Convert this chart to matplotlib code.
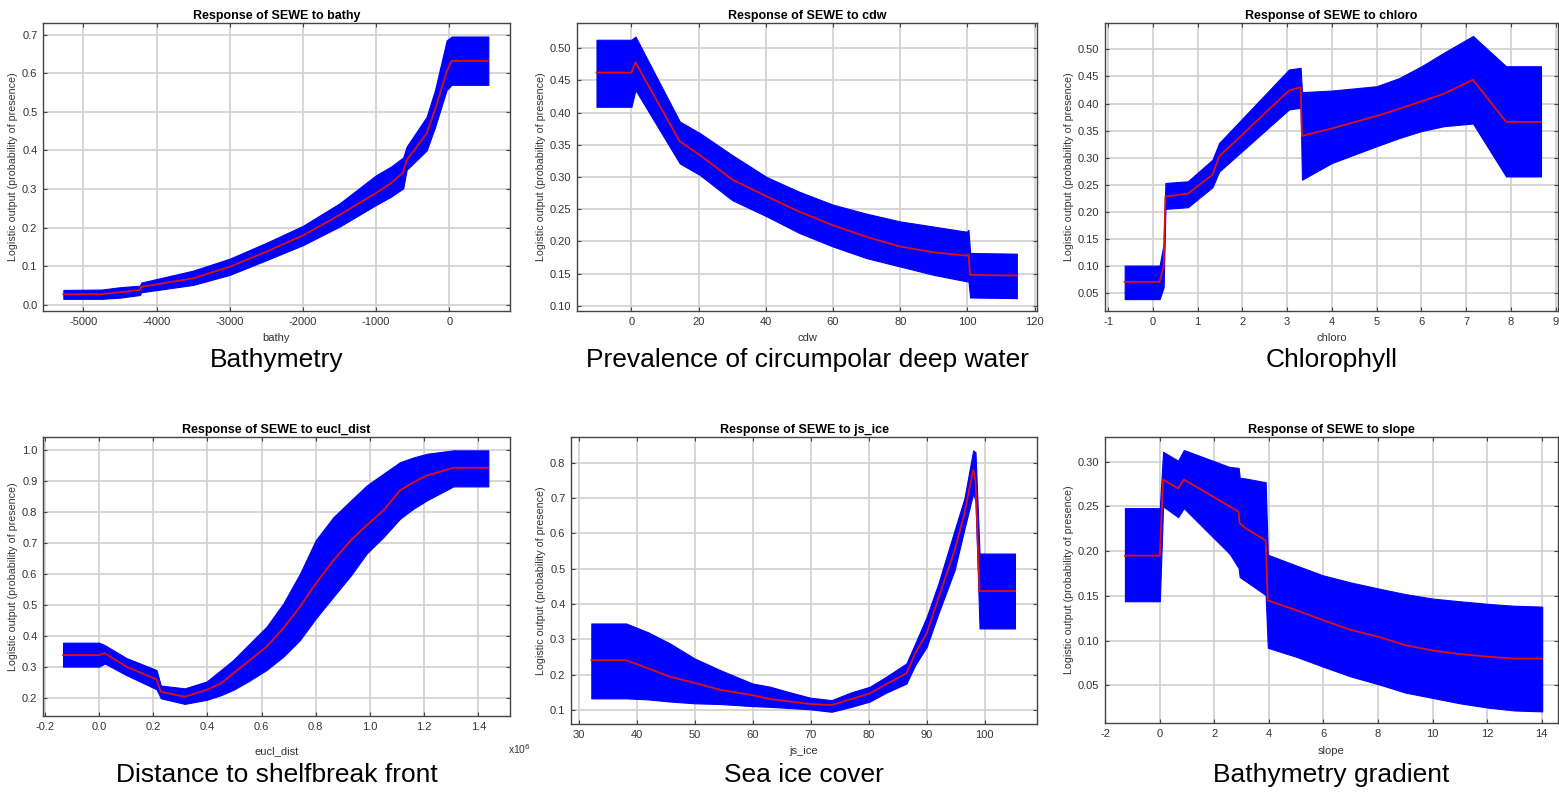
import matplotlib
matplotlib.use("Agg")
import matplotlib.pyplot as plt
from matplotlib.ticker import FormatStrFormatter

plt.rcParams['font.family'] = ['Liberation Sans', 'DejaVu Sans']

# ---------------- data ----------------
bathy_x = [-5273, -4750, -4500, -4226, -4210, -3500, -3000, -2500, -2000, -1500, -1000, -800, -630, -583, -310, -196, -36, 32, 533]
bathy_mean = [0.028, 0.028, 0.033, 0.039, 0.047, 0.069, 0.099, 0.138, 0.180, 0.233, 0.290, 0.315, 0.343, 0.375, 0.444, 0.505, 0.604, 0.632, 0.632]
bathy_lo = [0.016, 0.016, 0.019, 0.026, 0.033, 0.052, 0.078, 0.116, 0.155, 0.203, 0.259, 0.280, 0.302, 0.350, 0.400, 0.460, 0.557, 0.570, 0.570]
bathy_hi = [0.039, 0.040, 0.046, 0.050, 0.058, 0.089, 0.120, 0.161, 0.205, 0.263, 0.336, 0.358, 0.382, 0.410, 0.487, 0.556, 0.685, 0.695, 0.695]

cdw_x = [-10.4, 0.0, 1.2, 14.4, 20.4, 30.0, 40.2, 50.0, 60.0, 70.0, 80.0, 90.0, 99.8, 100.3, 100.8, 114.7]
cdw_mean = [0.462, 0.462, 0.478, 0.355, 0.334, 0.296, 0.270, 0.246, 0.225, 0.207, 0.192, 0.183, 0.178, 0.180, 0.148, 0.147]
cdw_lo = [0.409, 0.409, 0.435, 0.321, 0.303, 0.264, 0.239, 0.213, 0.192, 0.174, 0.161, 0.148, 0.138, 0.138, 0.113, 0.112]
cdw_hi = [0.513, 0.513, 0.518, 0.386, 0.368, 0.334, 0.300, 0.277, 0.257, 0.243, 0.231, 0.223, 0.215, 0.218, 0.182, 0.181]

chl_x = [-0.63, 0.15, 0.24, 0.28, 0.78, 1.33, 1.48, 3.04, 3.30, 3.33, 4.0, 5.0, 5.5, 6.0, 6.5, 7.15, 7.89, 8.67]
chl_mean = [0.070, 0.070, 0.098, 0.228, 0.233, 0.268, 0.302, 0.424, 0.430, 0.340, 0.354, 0.377, 0.390, 0.404, 0.418, 0.444, 0.366, 0.366]
chl_lo = [0.038, 0.038, 0.060, 0.205, 0.208, 0.245, 0.274, 0.389, 0.392, 0.259, 0.290, 0.321, 0.336, 0.349, 0.358, 0.363, 0.265, 0.265]
chl_hi = [0.100, 0.100, 0.140, 0.253, 0.256, 0.296, 0.327, 0.463, 0.466, 0.421, 0.424, 0.432, 0.447, 0.469, 0.494, 0.525, 0.469, 0.469]

eucl_x = [-0.133, 0.0, 0.021, 0.100, 0.212, 0.228, 0.316, 0.397, 0.450, 0.495, 0.550, 0.618, 0.680, 0.741, 0.800, 0.865, 0.930, 0.988, 1.050, 1.111, 1.160, 1.210, 1.308, 1.437]
eucl_mean = [0.339, 0.339, 0.345, 0.302, 0.261, 0.221, 0.205, 0.227, 0.248, 0.280, 0.318, 0.366, 0.425, 0.494, 0.569, 0.644, 0.709, 0.757, 0.805, 0.869, 0.895, 0.917, 0.942, 0.942]
eucl_lo = [0.302, 0.302, 0.312, 0.275, 0.229, 0.200, 0.182, 0.195, 0.210, 0.227, 0.254, 0.291, 0.334, 0.387, 0.457, 0.527, 0.596, 0.666, 0.719, 0.778, 0.810, 0.837, 0.882, 0.882]
eucl_hi = [0.379, 0.379, 0.371, 0.330, 0.291, 0.241, 0.232, 0.254, 0.291, 0.323, 0.371, 0.430, 0.505, 0.600, 0.709, 0.783, 0.837, 0.885, 0.923, 0.960, 0.975, 0.987, 0.998, 0.998]

ice_x = [32.2, 38.2, 42.0, 45.8, 50.0, 54.4, 60.0, 63.0, 66.0, 69.9, 73.6, 77.0, 80.2, 83.0, 86.5, 88.0, 90.0, 92.0, 94.8, 96.5, 98.0, 98.4, 99.1, 105.2]
ice_mean = [0.241, 0.241, 0.218, 0.194, 0.177, 0.157, 0.142, 0.131, 0.125, 0.117, 0.114, 0.131, 0.147, 0.173, 0.204, 0.260, 0.317, 0.416, 0.552, 0.656, 0.780, 0.750, 0.437, 0.437]
ice_lo = [0.133, 0.133, 0.130, 0.124, 0.119, 0.117, 0.111, 0.109, 0.106, 0.102, 0.095, 0.109, 0.124, 0.149, 0.175, 0.227, 0.279, 0.373, 0.496, 0.613, 0.713, 0.694, 0.331, 0.331]
ice_hi = [0.345, 0.345, 0.320, 0.288, 0.246, 0.213, 0.175, 0.166, 0.152, 0.135, 0.128, 0.150, 0.166, 0.194, 0.232, 0.288, 0.364, 0.458, 0.609, 0.700, 0.835, 0.830, 0.543, 0.543]

slope_x = [-1.28, 0.0, 0.12, 0.67, 0.88, 2.56, 2.89, 2.93, 3.17, 3.88, 3.96, 5.0, 5.98, 7.0, 8.05, 9.0, 10.0, 11.0, 12.07, 13.0, 14.02]
slope_mean = [0.195, 0.195, 0.280, 0.270, 0.280, 0.250, 0.244, 0.231, 0.225, 0.212, 0.145, 0.134, 0.123, 0.112, 0.104, 0.095, 0.089, 0.085, 0.082, 0.080, 0.080]
slope_lo = [0.144, 0.144, 0.250, 0.238, 0.248, 0.197, 0.181, 0.171, 0.166, 0.151, 0.092, 0.082, 0.071, 0.060, 0.051, 0.042, 0.036, 0.030, 0.025, 0.022, 0.021]
slope_hi = [0.248, 0.248, 0.311, 0.301, 0.313, 0.294, 0.293, 0.282, 0.281, 0.277, 0.196, 0.184, 0.173, 0.165, 0.158, 0.152, 0.147, 0.144, 0.141, 0.139, 0.138]

variables = ["bathy", "cdw", "chloro", "eucl_dist", "js_ice", "slope"]
captions = ["Bathymetry", "Prevalence of circumpolar deep water", "Chlorophyll",
            "Distance to shelfbreak front", "Sea ice cover", "Bathymetry gradient"]

# ---------------- layout ----------------
W, H = 1559, 794
fig = plt.figure(figsize=(W / 100, H / 100), dpi=100)
fig.patch.set_facecolor("white")

panels = [
    dict(x=bathy_x, m=bathy_mean, lo=bathy_lo, hi=bathy_hi, box=(43, 510, 23, 311),
         xlim=(-5551, 829), ylim=(-0.0155, 0.73), xt=range(-5000, 1, 1000),
         yt=[0.0, 0.1, 0.2, 0.3, 0.4, 0.5, 0.6, 0.7], xf="%d", yf="%.1f"),
    dict(x=cdw_x, m=cdw_mean, lo=cdw_lo, hi=cdw_hi, box=(577, 1037, 23, 311),
         xlim=(-16.2, 120.7), ylim=(0.092, 0.539), xt=range(0, 121, 20),
         yt=[0.10, 0.15, 0.20, 0.25, 0.30, 0.35, 0.40, 0.45, 0.50], xf="%d", yf="%.2f"),
    dict(x=chl_x, m=chl_mean, lo=chl_lo, hi=chl_hi, box=(1105, 1558, 23, 311),
         xlim=(-1.07, 9.05), ylim=(0.016, 0.549), xt=range(-1, 10),
         yt=[0.05, 0.10, 0.15, 0.20, 0.25, 0.30, 0.35, 0.40, 0.45, 0.50], xf="%d", yf="%.2f"),
    dict(x=eucl_x, m=eucl_mean, lo=eucl_lo, hi=eucl_hi, box=(43, 510, 437, 716),
         xlim=(-0.207, 1.517), ylim=(0.143, 1.041),
         xt=[-0.2, 0.0, 0.2, 0.4, 0.6, 0.8, 1.0, 1.2, 1.4],
         yt=[0.2, 0.3, 0.4, 0.5, 0.6, 0.7, 0.8, 0.9, 1.0], xf="%.1f", yf="%.1f"),
    dict(x=ice_x, m=ice_mean, lo=ice_lo, hi=ice_hi, box=(571, 1037, 437, 724),
         xlim=(28.7, 109.0), ylim=(0.0604, 0.873), xt=range(30, 101, 10),
         yt=[0.1, 0.2, 0.3, 0.4, 0.5, 0.6, 0.7, 0.8], xf="%d", yf="%.1f"),
    dict(x=slope_x, m=slope_mean, lo=slope_lo, hi=slope_hi, box=(1105, 1558, 437, 723),
         xlim=(-2.01, 14.6), ylim=(0.008, 0.3275), xt=range(-2, 15, 2),
         yt=[0.05, 0.10, 0.15, 0.20, 0.25, 0.30], xf="%d", yf="%.2f"),
]

xlabel_y = [338, 338, 338, 751, 751, 751]
caption_y = [360, 360, 360, 775, 775, 775]
tick_col = "#333333"

for i, p in enumerate(panels):
    l, r, t, b = p["box"]
    ax = fig.add_axes([l / W, (H - b) / H, (r - l) / W, (b - t) / H])
    ax.set_facecolor("white")
    ax.fill_between(p["x"], p["lo"], p["hi"], color="#0000ff", linewidth=0.8,
                    edgecolor="#0000ff", zorder=2)
    ax.plot(p["x"], p["m"], color="#e01010", linewidth=1.3, zorder=3)
    ax.set_xlim(*p["xlim"])
    ax.set_ylim(*p["ylim"])
    ax.set_xticks(list(p["xt"]))
    ax.set_yticks(p["yt"])
    ax.xaxis.set_major_formatter(FormatStrFormatter(p["xf"]))
    ax.yaxis.set_major_formatter(FormatStrFormatter(p["yf"]))
    ax.grid(True, color="#cfcfcf", linewidth=1.2, zorder=0)
    ax.set_axisbelow(True)
    ax.tick_params(axis="both", which="both", direction="in", length=3, width=0.8,
                   labelsize=8, colors="#444444", labelcolor=tick_col,
                   top=True, right=True, pad=4)
    for s in ax.spines.values():
        s.set_color("#444444")
        s.set_linewidth(1.0)
    ax.set_title("Response of SEWE to " + variables[i], fontsize=9,
                 fontweight="bold", pad=3, color="black")
    ax.set_ylabel("Logistic output (probability of presence)", fontsize=7.7,
                  color=tick_col, labelpad=3)
    cx = (l + r) / 2
    fig.text(cx / W, 1 - xlabel_y[i] / H, variables[i], fontsize=8,
             color=tick_col, ha="center", va="center")
    fig.text(cx / W, 1 - caption_y[i] / H, captions[i], fontsize=19,
             color="black", ha="center", va="center")

fig.text(508 / W, 1 - 749 / H, r"x10$^{6}$", fontsize=7.5, color=tick_col,
         ha="left", va="center")

fig.savefig("out.png", dpi=100, facecolor="white")
